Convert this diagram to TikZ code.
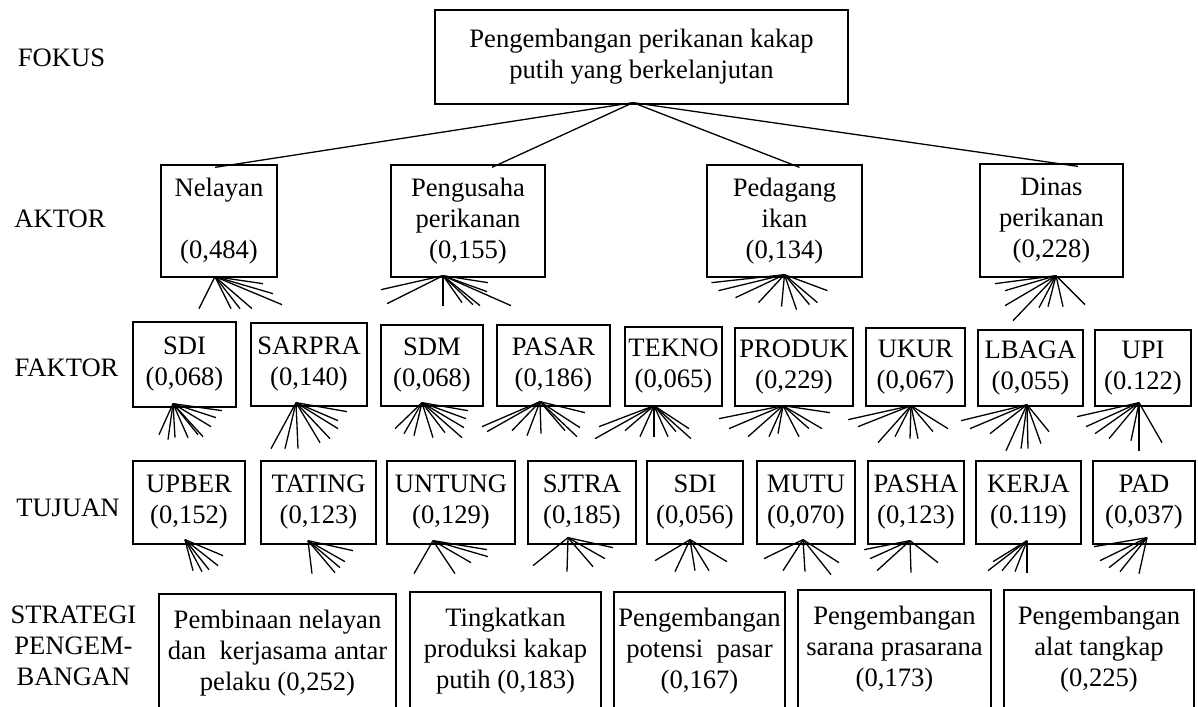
\documentclass[tikz,border=0pt]{standalone}
\usepackage{fontspec}
\setmainfont{Liberation Serif}
\usepackage{tikz}
\tikzset{
  kotak/.style 2 args={draw, line width=0.65pt, align=center, inner sep=0pt,
    minimum width=#1*0.5pt, minimum height=#2*0.5pt},
  garis/.style={line width=0.65pt},
}
% kipas: short lines fanning out below a box
\newcommand{\kipas}[3]{\foreach \dx/\dy in {#3} \draw[garis] ([shift={(#2)}]#1.south)--++(\dx,\dy);}

\begin{document}
\begin{tikzpicture}[x=0.5pt,y=-0.5pt,font=\fontsize{13.3}{15.5}\selectfont]
\useasboundingbox (0,0) rectangle (1198,706);
\clip (0,0) rectangle (1198,706);
% tingkat hirarki
\node (lfokus) at (61.5,58) {FOKUS};
\node (laktor) at (60,219) {AKTOR};
\node (lfaktor) at (66.5,368) {FAKTOR};
\node (ltujuan) at (68,508) {TUJUAN};
\node[align=center] (lstrategi) at (73.5,646) {STRATEGI\\PENGEM-\\BANGAN};
% fokus
\node[kotak={413}{94}] (fokus) at (641.5,57) {Pengembangan perikanan kakap\\putih yang berkelanjutan};
% aktor
\node[kotak={116}{112}] (nelayan) at (219,221) {Nelayan\\[15.5pt](0,484)};
\node[kotak={154}{112}] (pengusaha) at (468,221) {Pengusaha\\perikanan\\(0,155)};
\node[kotak={155}{112}] (pedagang) at (784.5,221) {Pedagang\\ikan\\(0,134)};
\node[kotak={143}{113}] (dinas) at (1051.5,220.5) {Dinas\\perikanan\\(0,228)};
% faktor
\node[kotak={103}{85}] (sdi) at (184.5,364.5) {SDI\\(0,068)};
\node[kotak={116}{83}] (sarpra) at (309,364.5) {SARPRA\\(0,140)};
\node[kotak={102}{81}] (sdm) at (432,365.5) {SDM\\(0,068)};
\node[kotak={113}{81}] (pasar) at (553.5,365.5) {PASAR\\(0,186)};
\node[kotak={97}{79}] (tekno) at (673.5,366.5) {TEKNO\\(0,065)};
\node[kotak={118}{78}] (produk) at (794,367) {PRODUK\\(0,229)};
\node[kotak={99}{78}] (ukur) at (915.5,367) {UKUR\\(0,067)};
\node[kotak={105}{76}] (lbaga) at (1030.5,368) {LBAGA\\(0,055)};
\node[kotak={96}{76}] (upi) at (1143,368) {UPI\\(0.122)};
% tujuan
\node[kotak={112}{83}] (upber) at (189,502.5) {UPBER\\(0,152)};
\node[kotak={115}{83}] (tating) at (318.5,502.5) {TATING\\(0,123)};
\node[kotak={128}{83}] (untung) at (451,502.5) {UNTUNG\\(0,129)};
\node[kotak={108}{83}] (sjtra) at (582,502.5) {SJTRA\\(0,185)};
\node[kotak={96}{83}] (sdidua) at (695,502.5) {SDI\\(0,056)};
\node[kotak={98}{83}] (mutu) at (806,502.5) {MUTU\\(0,070)};
\node[kotak={96}{83}] (pasha) at (916,502.5) {PASHA\\(0,123)};
\node[kotak={105}{83}] (kerja) at (1028.5,502.5) {KERJA\\(0.119)};
\node[kotak={102}{83}] (pad) at (1144,502.5) {PAD\\(0,037)};
% strategi pengembangan
\node[kotak={237}{118}] (pembinaan) at (277.5,653) {Pembinaan nelayan\\dan~ kerjasama antar\\pelaku (0,252)};
\node[kotak={191}{118}] (produksi) at (505.5,651) {Tingkatkan\\produksi kakap\\putih (0,183)};
\node[kotak={171}{118}] (potensi) at (699.5,651) {Pengembangan\\potensi~ pasar\\(0,167)};
\node[kotak={193}{118}] (sarana) at (894.5,649) {Pengembangan\\sarana prasarana\\(0,173)};
\node[kotak={190}{118}] (alat) at (1099,649) {Pengembangan\\alat tangkap\\(0,225)};
% fokus ke aktor
\coordinate (puncak) at ([shift={(-8.5,-2)}]fokus.south);
\foreach \n/\s in {nelayan/-4,pengusaha/24,pedagang/15,dinas/26.5}
  \draw[garis] (puncak)--([shift={(\s,3)}]\n.north);
% kipas aktor
\kipas{nelayan}{-4,-1}{-16/32,16/32,25/32,37/32,48/7,58/17,67/28}
\kipas{pengusaha}{-25,-2}{-62/14,-56/28,0/30,19/27,30/29,37/30,45/7,44/16,68/30}
\kipas{pedagang}{0,-3}{-73/8,-66/16,-49/23,-26/28,-3/32,12/35,25/30,33/28,43/16}
\kipas{dinas}{4.5,-2}{-61/8,-51/15,-51/30,-43/45,-17/32,-8/31,7/31,29/29}
% kipas faktor
\kipas{sdi}{-11.5,-4}{-14/31,-5/36,2/34,15/34,25/31,30/33,38/23,43/14,49/7}
\kipas{sarpra}{-13,-4}{-25/46,-11/46,2/46,24/40,34/36,42/26,42/18,51/9}
\kipas{sdm}{-10,-4}{-27/26,-18/31,-8/33,11/35,23/30,40/35,42/25,44/16,46/8}
\kipas{pasar}{-13.5,-5}{-58/25,-53/30,-28/29,-13/34,1/32,25/29,37/35,40/26,45/11}
\kipas{tekno}{-19.5,-1}{-59/33,-55/21,-29/25,-14/31,0/31,14/31,22/26,35/23,37/33}
\kipas{produk}{-11,-1}{-64/13,-54/23,-35/31,-14/31,-5/28,16/31,26/23,39/23,47/7}
\kipas{ukur}{-4.5,-1}{-63/14,-53/21,-33/37,-16/31,-1/33,7/33,22/26,37/23}
\kipas{lbaga}{-3.5,-2}{-66/16,-57/24,-37/29,-21/46,-6/44,1/44,14/39,22/27}
\kipas{upi}{-4,-4}{-62/14,-53/24,-44/31,-30/36,-8/38,0/48,23/40}
% kipas tujuan
\kipas{upber}{-4,-5}{8/31,17/32,24/30,33/26,38/16}
\kipas{tating}{-10.5,-4}{4/33,27/32,32/27,37/21,45/10}
\kipas{untung}{-18,-4}{-19/33,22/33,38/22,54/9,55/16}
\kipas{sjtra}{-14,-7}{-35/28,-1/34,25/29,37/21,45/10}
\kipas{sdidua}{-5,-5}{-35/21,-15/32,5/31,19/31,37/22}
\kipas{mutu}{-3,-5}{-39/19,-20/31,2/32,28/35,36/23}
\kipas{pasha}{-6,-4}{-46/9,-40/18,-33/30,1/32,28/22}
\kipas{kerja}{-1.5,-4}{-39/30,-34/21,-25/30,-12/31,0/32}
\kipas{pad}{3,-7}{-53/9,-47/23,-38/30,-27/34,-8/36}
\end{tikzpicture}
\end{document}
